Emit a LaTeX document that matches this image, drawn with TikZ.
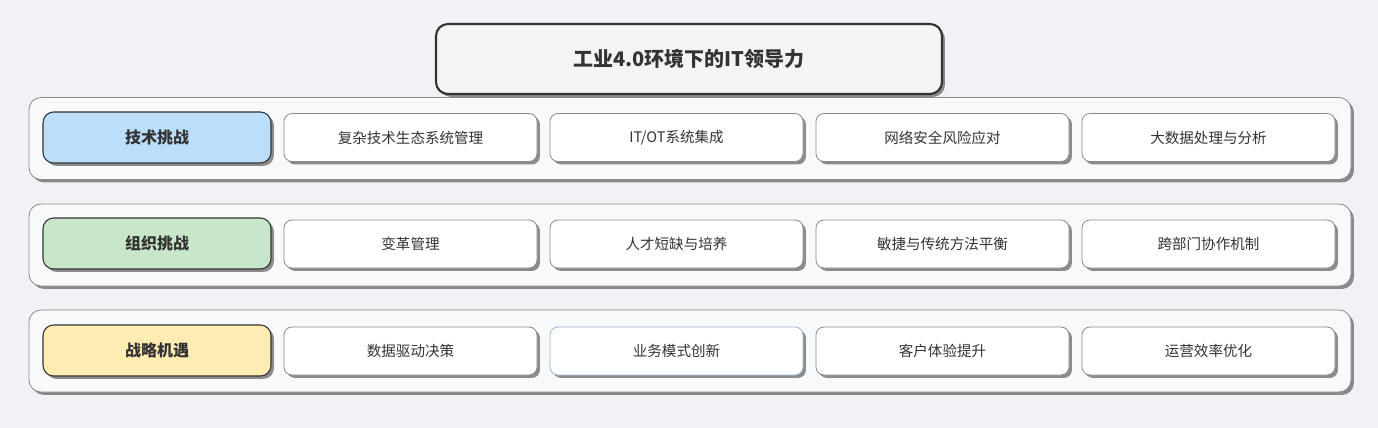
\documentclass[tikz,border=0pt]{standalone}
\usepackage{fontspec}
\setmainfont{Noto Sans CJK SC}
\usetikzlibrary{shadows}
\definecolor{bg}{HTML}{F0F2F6}
\definecolor{rowfill}{HTML}{F8F9FB}
\definecolor{titlefill}{HTML}{F4F4F4}
\definecolor{darkline}{HTML}{333333}
\definecolor{grayline}{HTML}{8A8A8A}
\definecolor{blueline}{HTML}{9DB4D6}
\definecolor{catblue}{HTML}{BBDEFB}
\definecolor{catgreen}{HTML}{C8E6C9}
\definecolor{catyellow}{HTML}{FFECB3}
\definecolor{txt}{HTML}{333333}
\tikzset{
  px/.style={x=0.75pt,y=-0.75pt},
  shd/.style={drop shadow={shadow xshift=2.2pt,shadow yshift=-2.2pt,opacity=0.55,fill=black!80}},
  titlebox/.style={draw=darkline,line width=1.6pt,fill=titlefill,rounded corners=9pt,shd,
    minimum width=379.5pt,minimum height=52.5pt,inner sep=0pt,
    font=\fontsize{15pt}{18pt}\selectfont\bfseries,text=txt},
  rowbox/.style={draw=grayline,line width=0.6pt,fill=rowfill,rounded corners=9pt,shd,
    minimum width=991.5pt,minimum height=61.5pt,inner sep=0pt},
  catbox/.style={draw=darkline,line width=0.8pt,rounded corners=8pt,shd,
    minimum width=171pt,minimum height=38.25pt,inner sep=0pt,
    font=\fontsize{12pt}{14pt}\selectfont\bfseries,text=txt},
  itembox/.style={draw=grayline,line width=0.6pt,fill=white,rounded corners=6pt,shd,
    minimum width=189.75pt,minimum height=36pt,inner sep=0pt,
    font=\fontsize{10.9pt}{13pt}\selectfont,text=txt},
}
\begin{document}
\begin{tikzpicture}[px]
\fill[bg] (0,0) rectangle (1378,428);
\useasboundingbox (0,0) rectangle (1378,428);
\node[titlebox] (title) at (689,59) {工业4.0环境下的IT领导力};
% row 1
\node[rowbox] (row1) at (690,138.5) {};
\node[catbox,fill=catblue] (c1) at (157,137.5) {技术挑战};
\node[itembox] (i11) at (410.5,137.5) {复杂技术生态系统管理};
\node[itembox] (i12) at (676.5,137.5) {IT/OT系统集成};
\node[itembox] (i13) at (942.5,137.5) {网络安全风险应对};
\node[itembox] (i14) at (1208.5,137.5) {大数据处理与分析};
% row 2
\node[rowbox] (row2) at (690,245) {};
\node[catbox,fill=catgreen] (c2) at (157,243.5) {组织挑战};
\node[itembox] (i21) at (410.5,244) {变革管理};
\node[itembox] (i22) at (676.5,244) {人才短缺与培养};
\node[itembox] (i23) at (942.5,244) {敏捷与传统方法平衡};
\node[itembox] (i24) at (1208.5,244) {跨部门协作机制};
% row 3
\node[rowbox] (row3) at (690,351) {};
\node[catbox,fill=catyellow] (c3) at (157,350.5) {战略机遇};
\node[itembox] (i31) at (410.5,351) {数据驱动决策};
\node[itembox,draw=blueline] (i32) at (676.5,351) {业务模式创新};
\node[itembox] (i33) at (942.5,351) {客户体验提升};
\node[itembox] (i34) at (1208.5,351) {运营效率优化};
\end{tikzpicture}
\end{document}
